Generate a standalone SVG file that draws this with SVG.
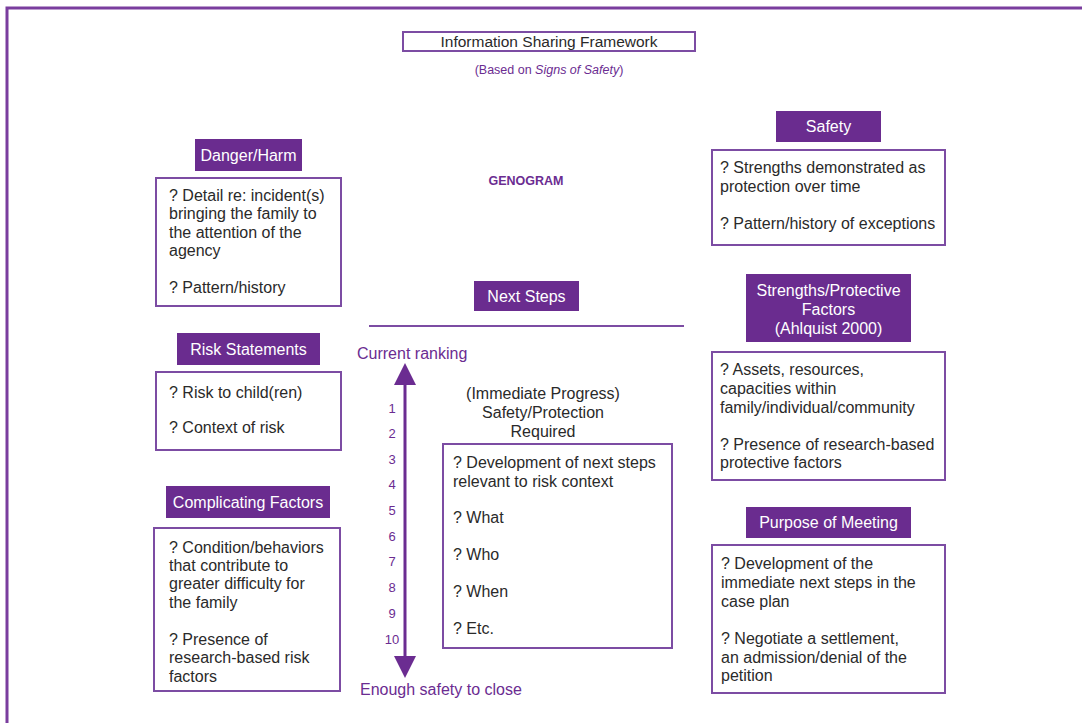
<svg xmlns="http://www.w3.org/2000/svg" width="1082" height="723" viewBox="0 0 1082 723">
<style>
text{font-family:"Liberation Sans",Arial,sans-serif;font-size:16px;fill:#2a2a2a}
.hd{fill:#6a2c8f}
.hdt{fill:#fff;text-anchor:middle}
.bx{fill:#fff;stroke:#7c4ca3;stroke-width:2}
.pt{fill:#6b2c91}
.num{fill:#6b2c91;font-size:13px;text-anchor:middle}
.c{text-anchor:middle}
</style>
<rect width="1082" height="723" fill="#fff"/>
<path d="M7,730 V8 H1090" fill="none" stroke="#7a3d9e" stroke-width="3"/>

<g id="title">
<rect x="403" y="32" width="292" height="19" fill="#fff" stroke="#7c4ca3" stroke-width="2"/>
<text x="549" y="47" class="c" style="font-size:15.5px">Information Sharing Framework</text>
<text x="549" y="74" class="c pt" style="font-size:12.5px">(Based on <tspan font-style="italic">Signs of Safety</tspan>)</text>
</g>

<g id="genogram">
<text x="526" y="185" class="c pt" style="font-size:12.5px;font-weight:bold">GENOGRAM</text>
</g>

<g id="danger">
<rect class="hd" x="195" y="139" width="107" height="32"/>
<text class="hdt" x="248.5" y="160.5">Danger/Harm</text>
<rect class="bx" x="156" y="178" width="185" height="128"/>
<text x="169" y="200.5">? Detail re: incident(s)</text>
<text x="169" y="218.5">bringing the family to</text>
<text x="169" y="237.5">the attention of the</text>
<text x="169" y="255.5">agency</text>
<text x="169" y="292.5">? Pattern/history</text>
</g>

<g id="risk">
<rect class="hd" x="177" y="333" width="143" height="32"/>
<text class="hdt" x="248.5" y="354.5">Risk Statements</text>
<rect class="bx" x="156" y="372" width="185" height="78"/>
<text x="169" y="397.5">? Risk to child(ren)</text>
<text x="169" y="432.5">? Context of risk</text>
</g>

<g id="complicating">
<rect class="hd" x="166" y="486" width="164" height="32"/>
<text class="hdt" x="248" y="507.5">Complicating Factors</text>
<rect class="bx" x="154" y="528" width="186" height="163"/>
<text x="169" y="552.5">? Condition/behaviors</text>
<text x="169" y="570.5">that contribute to</text>
<text x="169" y="588.5">greater difficulty for</text>
<text x="169" y="607.5">the family</text>
<text x="169" y="644.5">? Presence of</text>
<text x="169" y="662.5">research-based risk</text>
<text x="169" y="681.5">factors</text>
</g>

<g id="nextsteps">
<rect class="hd" x="474" y="281" width="105" height="30"/>
<text class="hdt" x="526.5" y="301.5">Next Steps</text>
<line x1="369" y1="326" x2="684" y2="326" stroke="#7c4ca3" stroke-width="2"/>
</g>

<g id="ranking">
<text x="357" y="358.5" class="pt">Current ranking</text>
<text x="360" y="694.5" class="pt">Enough safety to close</text>
<text class="num" x="392" y="412.5">1</text>
<text class="num" x="392" y="438">2</text>
<text class="num" x="392" y="463.5">3</text>
<text class="num" x="392" y="489">4</text>
<text class="num" x="392" y="514.5">5</text>
<text class="num" x="392" y="540.5">6</text>
<text class="num" x="392" y="566">7</text>
<text class="num" x="392" y="592">8</text>
<text class="num" x="392" y="617.5">9</text>
<text class="num" x="392" y="643.5">10</text>
</g>

<g id="connectors">
<line x1="405" y1="380" x2="405" y2="662" stroke="#6b2c91" stroke-width="3"/>
<polygon points="405,363 394,385 416,385" fill="#6b2c91"/>
<polygon points="405,678 394,656 416,656" fill="#6b2c91"/>
</g>

<g id="immediate">
<text x="543" y="398.5" class="c">(Immediate Progress)</text>
<text x="543" y="417.5" class="c">Safety/Protection</text>
<text x="543" y="436.5" class="c">Required</text>
<rect class="bx" x="443" y="444" width="229" height="204"/>
<text x="453" y="467.5">? Development of next steps</text>
<text x="453" y="486.5">relevant to risk context</text>
<text x="453" y="522.5">? What</text>
<text x="453" y="559.5">? Who</text>
<text x="453" y="596.5">? When</text>
<text x="453" y="633.5">? Etc.</text>
</g>

<g id="safety">
<rect class="hd" x="776" y="111" width="105" height="31"/>
<text class="hdt" x="828.5" y="132">Safety</text>
<rect class="bx" x="712" y="150" width="233" height="95"/>
<text x="720" y="172.5">? Strengths demonstrated as</text>
<text x="720" y="191.5">protection over time</text>
<text x="720" y="228.5">? Pattern/history of exceptions</text>
</g>

<g id="strengths">
<rect class="hd" x="746" y="274" width="165" height="68"/>
<text class="hdt" x="828.5" y="295.5">Strengths/Protective</text>
<text class="hdt" x="828.5" y="314.5">Factors</text>
<text class="hdt" x="828.5" y="333.5">(Ahlquist 2000)</text>
<rect class="bx" x="712" y="352" width="233" height="128"/>
<text x="720" y="374.5">? Assets, resources,</text>
<text x="720" y="393.5">capacities within</text>
<text x="720" y="412.5">family/individual/community</text>
<text x="720" y="449.5">? Presence of research-based</text>
<text x="720" y="467.5">protective factors</text>
</g>

<g id="purpose">
<rect class="hd" x="746" y="507" width="165" height="31"/>
<text class="hdt" x="828.5" y="528">Purpose of Meeting</text>
<rect class="bx" x="712" y="545" width="233" height="148"/>
<text x="721" y="568.5">? Development of the</text>
<text x="721" y="587.5">immediate next steps in the</text>
<text x="721" y="606.5">case plan</text>
<text x="721" y="643.5">? Negotiate a settlement,</text>
<text x="721" y="662.5">an admission/denial of the</text>
<text x="721" y="680.5">petition</text>
</g>
</svg>
